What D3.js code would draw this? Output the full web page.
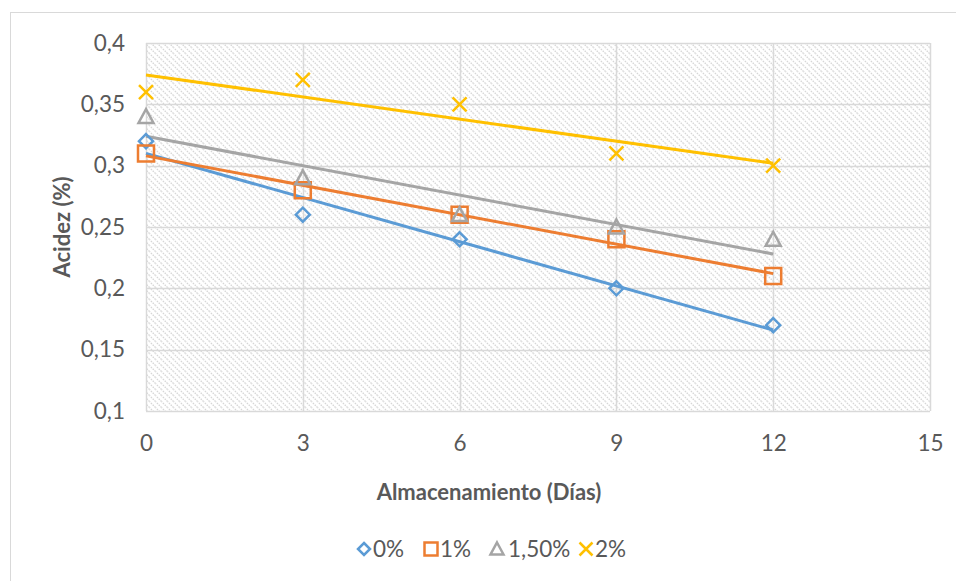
<!DOCTYPE html>
<html>
<head>
<meta charset="utf-8">
<script src="https://cdn.jsdelivr.net/npm/d3@7"></script>
<style>
  html, body { margin: 0; padding: 0; background: #fff; }
  svg { display: block; }
  text { font-family: Lato, "Open Sans", sans-serif; fill: #595959; }
</style>
</head>
<body>
<svg id="chart" width="956" height="581"></svg>
<script>
// Storage days and acidity per concentration
const days = [0, 3, 6, 9, 12];
const seriesNames = ["0%", "1%", "1,50%", "2%"];
const acid0 = [0.32, 0.26, 0.24, 0.20, 0.17];
const acid1 = [0.31, 0.28, 0.26, 0.24, 0.21];
const acid150 = [0.34, 0.29, 0.26, 0.25, 0.24];
const acid2 = [0.36, 0.37, 0.35, 0.31, 0.30];
const xTicks = [0, 3, 6, 9, 12, 15];
const yTicks = [0.1, 0.15, 0.2, 0.25, 0.3, 0.35, 0.4];

const colors = ["#5B9BD5", "#ED7D31", "#A5A5A5", "#FFC000"];
const markers = ["diamond", "square", "triangle", "cross"];
const values = [acid0, acid1, acid150, acid2];

const FONT = "Lato, 'Open Sans', sans-serif";
const FS = 22.5;
const svg = d3.select("#chart");
const plot = { left: 146, top: 43, right: 930, bottom: 411 };

const x = d3.scaleLinear().domain([0, 15]).range([plot.left, plot.right]);
const y = d3.scaleLinear().domain([0.1, 0.4]).range([plot.bottom, plot.top]);
const fmt = v => String(+v.toFixed(2)).replace(".", ",");

// Outer chart frame
svg.append("rect")
  .attr("x", 10.5).attr("y", 12.5).attr("width", 960).attr("height", 600)
  .attr("fill", "#fff").attr("stroke", "#d9d9d9").attr("stroke-width", 1);

// Diagonal hatch fill for the plot area
const defs = svg.append("defs");
const pat = defs.append("pattern")
  .attr("id", "hatch").attr("patternUnits", "userSpaceOnUse")
  .attr("width", 6).attr("height", 6);
pat.append("rect").attr("width", 6).attr("height", 6).attr("fill", "#fff");
pat.append("path").attr("d", "M-1,-1 L7,7 M-1,5 L1,7 M5,-1 L7,1")
  .attr("stroke", "#d6d6d6").attr("stroke-width", 1.3).attr("stroke-dasharray", "1.6,1");

svg.append("rect")
  .attr("x", plot.left).attr("y", plot.top)
  .attr("width", plot.right - plot.left).attr("height", plot.bottom - plot.top)
  .attr("fill", "url(#hatch)");

// Gridlines
const grid = svg.append("g");
grid.selectAll(".hg").data(yTicks).join("line")
  .attr("x1", plot.left).attr("x2", plot.right)
  .attr("y1", d => Math.round(y(d)) + 0.5).attr("y2", d => Math.round(y(d)) + 0.5)
  .attr("stroke", "#d9d9d9").attr("stroke-width", 1.5);
grid.selectAll(".vg").data(xTicks).join("line")
  .attr("y1", plot.top).attr("y2", plot.bottom)
  .attr("x1", d => Math.round(x(d)) + 0.5).attr("x2", d => Math.round(x(d)) + 0.5)
  .attr("stroke", "#d9d9d9").attr("stroke-width", 1.5);

// Axes (labels only, lines hidden)
const yAxis = svg.append("g").attr("transform", `translate(${plot.left - 21},0)`)
  .call(d3.axisLeft(y).tickValues(yTicks).tickSize(0).tickPadding(0).tickFormat(fmt));
yAxis.select(".domain").remove();
yAxis.selectAll("text").attr("font-size", FS).attr("font-family", FONT)
  .attr("fill", "#595959");

const xAxis = svg.append("g").attr("transform", `translate(0,${plot.bottom + 24})`)
  .call(d3.axisBottom(x).tickValues(xTicks).tickSize(0).tickPadding(0).tickFormat(d3.format("d")));
xAxis.select(".domain").remove();
xAxis.selectAll("text").attr("font-size", FS).attr("font-family", FONT)
  .attr("fill", "#595959");

// Axis titles
svg.append("text")
  .attr("transform", `translate(70,${(plot.top + plot.bottom) / 2}) rotate(-90)`)
  .attr("text-anchor", "middle").attr("font-size", 22).attr("font-weight", "bold")
  .text("Acidez (%)");
svg.append("text")
  .attr("x", 489).attr("y", 500)
  .attr("text-anchor", "middle").attr("font-size", 22).attr("font-weight", "bold")
  .text("Almacenamiento (Días)");

// Marker shapes
function markerPath(type, s) {
  const h = s / 2;
  switch (type) {
    case "diamond": return `M0,${-h}L${h},0L0,${h}L${-h},0Z`;
    case "square": return `M${-h},${-h}H${h}V${h}H${-h}Z`;
    case "triangle": return `M0,${-h}L${h},${h * 0.85}H${-h}Z`;
    case "cross": return `M${-h},${-h}L${h},${h}M${h},${-h}L${-h},${h}`;
  }
}

// Linear trendlines (least squares)
function fit(xs, ys) {
  const mx = d3.mean(xs), my = d3.mean(ys);
  const sxy = d3.sum(xs, (v, i) => (v - mx) * (ys[i] - my));
  const sxx = d3.sum(xs, v => (v - mx) ** 2);
  const b = sxy / sxx;
  return { a: my - b * mx, b };
}

const line = d3.line().x(d => x(d[0])).y(d => y(d[1]));
values.forEach((vals, i) => {
  const f = fit(days, vals);
  const ends = [days[0], days[days.length - 1]].map(d => [d, f.a + f.b * d]);
  svg.append("path").attr("d", line(ends))
    .attr("fill", "none").attr("stroke", colors[i]).attr("stroke-width", 3);
});

const sizes = { diamond: 14, square: 16, triangle: 15, cross: 14 };
values.forEach((vals, i) => {
  svg.append("g").selectAll("path").data(days.map((d, j) => [d, vals[j]])).join("path")
    .attr("transform", d => `translate(${x(d[0])},${y(d[1])})`)
    .attr("d", markerPath(markers[i], sizes[markers[i]]))
    .attr("fill", "none").attr("stroke", colors[i]).attr("stroke-width", 2.5);
});

// Legend
const legendX = [364, 431, 497, 586];
const legend = svg.append("g");
seriesNames.forEach((name, i) => {
  const g = legend.append("g").attr("transform", `translate(${legendX[i]},549)`);
  g.append("path").attr("d", markerPath(markers[i], i === 0 ? 12 : 13))
    .attr("fill", "none").attr("stroke", colors[i]).attr("stroke-width", 2.5);
  g.append("text").attr("x", i === 2 ? 11 : 9).attr("y", 8).attr("font-size", FS).text(name);
});
</script>
</body>
</html>
